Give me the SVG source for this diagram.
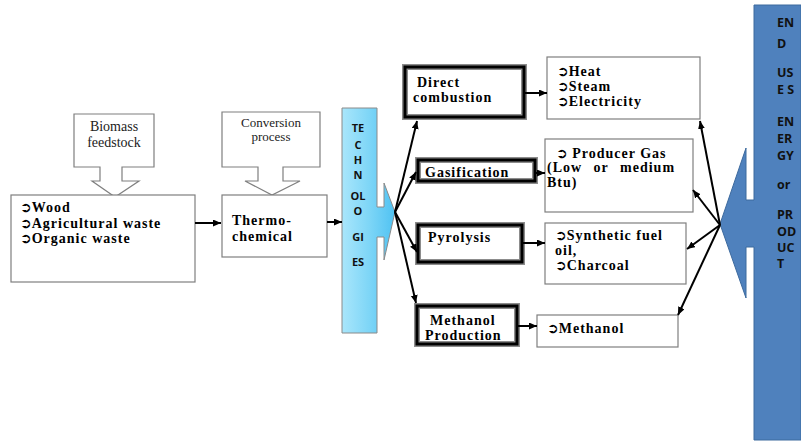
<svg xmlns="http://www.w3.org/2000/svg" width="801" height="442" viewBox="0 0 801 442">
<defs>
<style>
.box{fill:#fff;stroke:#7f7f7f;stroke-width:1.2}
.dbo{fill:#fff;stroke:#8c8c8c;stroke-width:6}
.dbi{fill:none;stroke:#000;stroke-width:3}
.t{font-weight:bold;font-size:14px;letter-spacing:1px;fill:#000}
.r{font-size:14px;fill:#222}
.r2{font-size:13px;fill:#222}
.s{font-weight:bold;font-size:11px;fill:#111}
.e{font-weight:bold;font-size:12.5px;fill:#111}
.g{font-weight:bold;letter-spacing:0}
.c line{stroke:#000;stroke-width:2;marker-end:url(#ah)}
</style>
<marker id="ah" markerUnits="userSpaceOnUse" markerWidth="9" markerHeight="8" refX="8" refY="3.5" orient="auto">
<path d="M0,0 L8,3.5 L0,7 z" fill="#000"/>
</marker>
<linearGradient id="tg" x1="0" y1="0" x2="1" y2="0">
<stop offset="0" stop-color="#a9e6fb"/>
<stop offset="0.5" stop-color="#7fd6f7"/>
<stop offset="1" stop-color="#4fc2f2"/>
</linearGradient>
</defs>

<g id="biomass-feedstock" font-family="Liberation Serif, serif">
<path class="box" d="M74,114 H154 V167 H122 V181 H139 L115,197 L92,181 H100 V167 H74 Z"/>
<text class="r" x="114" y="131" text-anchor="middle">Biomass</text>
<text class="r" x="114" y="147" text-anchor="middle">feedstock</text>
</g>

<g id="feedstock" font-family="Liberation Serif, serif">
<rect class="box" x="11" y="195" width="184" height="87"/>
<text class="t" x="20" y="212"><tspan class="g" font-family="DejaVu Sans, sans-serif">➲</tspan>Wood</text>
<text class="t" x="20" y="228"><tspan class="g" font-family="DejaVu Sans, sans-serif">➲</tspan>Agricultural waste</text>
<text class="t" x="20" y="243"><tspan class="g" font-family="DejaVu Sans, sans-serif">➲</tspan>Organic waste</text>
</g>

<g id="conversion-process" font-family="Liberation Serif, serif">
<path class="box" d="M222,112 H320 V167 H283 V181 H300 L272,195 L245,181 H258 V167 H222 Z"/>
<text class="r2" x="271" y="127" text-anchor="middle">Conversion</text>
<text class="r2" x="271" y="141" text-anchor="middle">process</text>
</g>

<g id="thermochemical" font-family="Liberation Serif, serif">
<rect class="box" x="222" y="195" width="105" height="62"/>
<text class="t" x="232" y="225">Thermo-</text>
<text class="t" x="232" y="241">chemical</text>
</g>

<g id="technologies" font-family="Open Sans, Liberation Sans, sans-serif">
<path d="M342,108 H377 V207 H384 V183 L395,212 L384,260 V237 H377 V333 H342 Z" fill="url(#tg)" stroke="#8a8a8a" stroke-width="1"/>
<g class="s" text-anchor="middle">
<text x="358" y="132">TE</text>
<text x="358" y="149">C</text>
<text x="358" y="164">H</text>
<text x="358" y="179">N</text>
<text x="358" y="200">OL</text>
<text x="358" y="215">O</text>
<text x="358" y="241">GI</text>
<text x="358" y="266">ES</text>
</g>
</g>

<g id="direct-combustion" font-family="Liberation Serif, serif">
<rect class="dbo" x="405" y="67" width="119" height="50"/>
<rect class="dbi" x="405" y="67" width="119" height="50"/>
<text class="t" x="417" y="87">Direct</text>
<text class="t" x="413" y="102">combustion</text>
</g>

<g id="gasification" font-family="Liberation Serif, serif">
<rect class="dbo" x="418" y="160" width="117" height="21"/>
<rect class="dbi" x="418" y="160" width="117" height="21"/>
<text class="t" x="425" y="177">Gasification</text>
</g>

<g id="pyrolysis" font-family="Liberation Serif, serif">
<rect class="dbo" x="418" y="225" width="104" height="37"/>
<rect class="dbi" x="418" y="225" width="104" height="37"/>
<text class="t" x="428" y="242">Pyrolysis</text>
</g>

<g id="methanol-production" font-family="Liberation Serif, serif">
<rect class="dbo" x="417" y="306" width="100" height="38"/>
<rect class="dbi" x="417" y="306" width="100" height="38"/>
<text class="t" x="430" y="325">Methanol</text>
<text class="t" x="425" y="340">Production</text>
</g>

<g id="heat-steam-electricity" font-family="Liberation Serif, serif">
<rect class="box" x="547" y="57" width="153" height="62"/>
<text class="t" x="557" y="76"><tspan class="g" font-family="DejaVu Sans, sans-serif">➲</tspan>Heat</text>
<text class="t" x="557" y="91"><tspan class="g" font-family="DejaVu Sans, sans-serif">➲</tspan>Steam</text>
<text class="t" x="557" y="106"><tspan class="g" font-family="DejaVu Sans, sans-serif">➲</tspan>Electricity</text>
</g>

<g id="producer-gas" font-family="Liberation Serif, serif">
<rect class="box" x="545" y="139" width="148" height="73"/>
<text class="t" x="556" y="158"><tspan class="g" font-family="DejaVu Sans, sans-serif">➲</tspan> Producer Gas</text>
<text class="t" x="547" y="172" word-spacing="7">(Low or medium</text>
<text class="t" x="547" y="187">Btu)</text>
</g>

<g id="synthetic-fuel" font-family="Liberation Serif, serif">
<rect class="box" x="545" y="223" width="141" height="61"/>
<text class="t" x="555" y="240"><tspan class="g" font-family="DejaVu Sans, sans-serif">➲</tspan>Synthetic fuel</text>
<text class="t" x="555" y="255">oil,</text>
<text class="t" x="555" y="270"><tspan class="g" font-family="DejaVu Sans, sans-serif">➲</tspan>Charcoal</text>
</g>

<g id="methanol" font-family="Liberation Serif, serif">
<rect class="box" x="537" y="315" width="141" height="32"/>
<text class="t" x="547" y="333"><tspan class="g" font-family="DejaVu Sans, sans-serif">➲</tspan>Methanol</text>
</g>

<g id="end-uses" font-family="Open Sans, Liberation Sans, sans-serif">
<path d="M754,5 H801 V440 H754 V247 H746 V298 L720,224 L746,148 V200 H754 Z" fill="#4f81bd" stroke="#3d6a9e" stroke-width="1"/>
<g class="e">
<text x="777" y="27">EN</text>
<text x="777" y="48">D</text>
<text x="777" y="77">US</text>
<text x="777" y="94">E S</text>
<text x="777" y="126">EN</text>
<text x="777" y="143">ER</text>
<text x="777" y="160">GY</text>
<text x="777" y="189">or</text>
<text x="777" y="219">PR</text>
<text x="777" y="236">OD</text>
<text x="777" y="252">UC</text>
<text x="777" y="268">T</text>
</g>
</g>

<g id="connectors" class="c">
<line x1="195" y1="223" x2="221" y2="223"/>
<line x1="327" y1="222" x2="342" y2="222"/>
<line x1="395" y1="212" x2="417" y2="121"/>
<line x1="395" y1="212" x2="416" y2="172"/>
<line x1="395" y1="212" x2="417" y2="252"/>
<line x1="395" y1="212" x2="416" y2="303"/>
<line x1="524" y1="93" x2="547" y2="93"/>
<line x1="535" y1="173" x2="545" y2="173"/>
<line x1="522" y1="243" x2="545" y2="243"/>
<line x1="517" y1="326" x2="537" y2="326"/>
<line x1="720" y1="225" x2="700" y2="121"/>
<line x1="720" y1="225" x2="693" y2="190"/>
<line x1="720" y1="225" x2="687" y2="249"/>
<line x1="720" y1="225" x2="678" y2="315"/>
</g>
</svg>
